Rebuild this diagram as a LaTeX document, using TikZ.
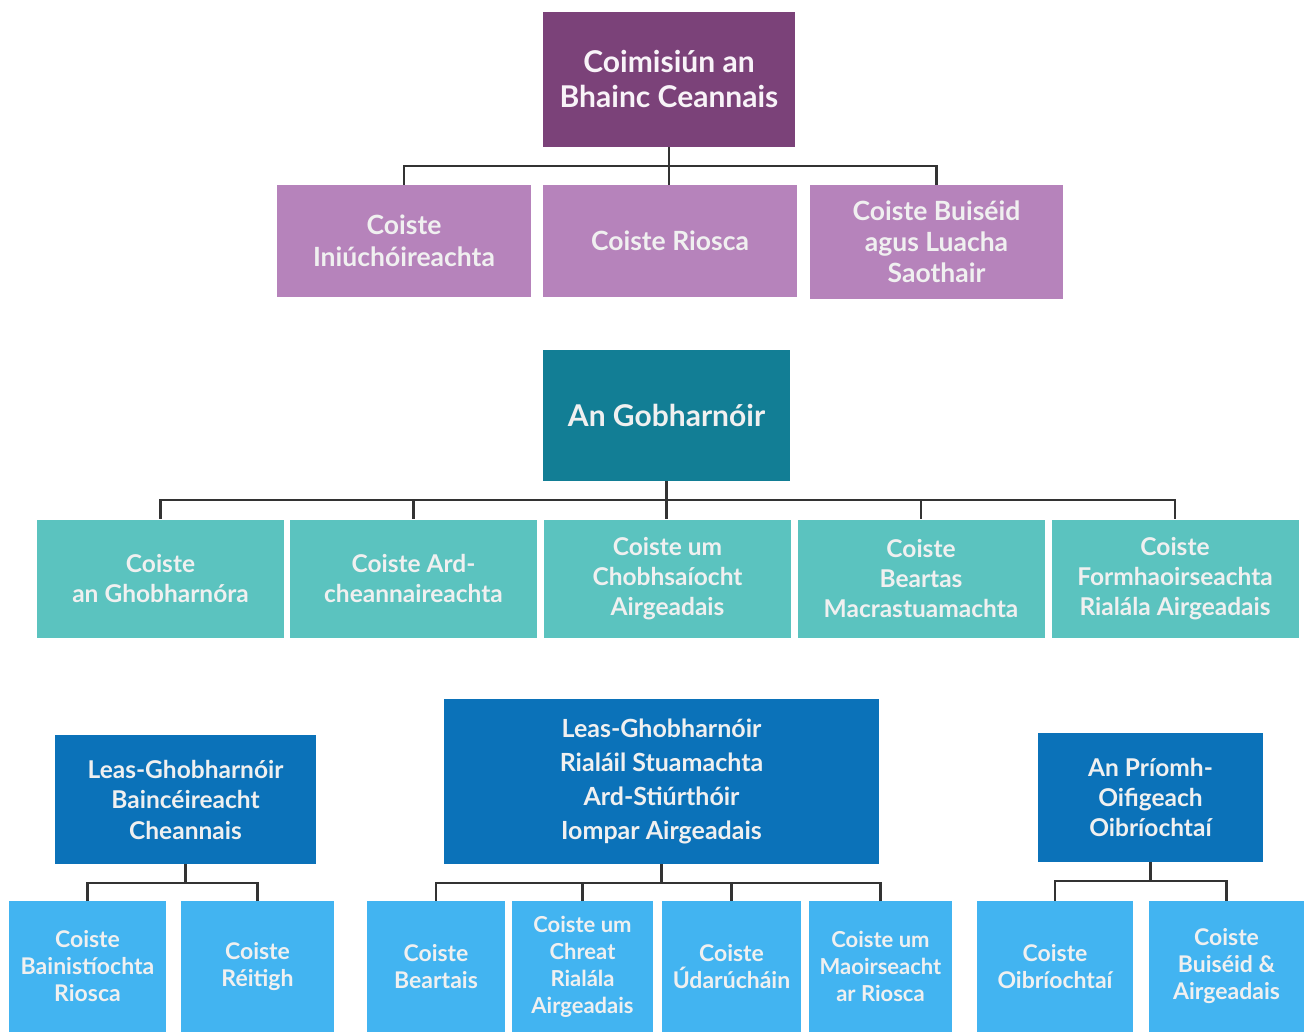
\documentclass[tikz,border=0pt]{standalone}
\usepackage{fontspec}
\setmainfont{Lato}
\usepackage{tikz}
\definecolor{commdark}{HTML}{7B4279}
\definecolor{commlight}{HTML}{B683BB}
\definecolor{govdark}{HTML}{127E95}
\definecolor{govlight}{HTML}{5BC3BF}
\definecolor{depdark}{HTML}{0B72B9}
\definecolor{deplight}{HTML}{42B4F1}
\def\drop{19}

\begin{document}
\begin{tikzpicture}[x=1pt, y=-1pt,
    box/.style={inner sep=0pt, align=center, font=\bfseries, text=white!94!black},
    link/.style={draw=black!80, line width=2.2pt}]
            \useasboundingbox (0, 0) rectangle (1304, 1032);

            % coimisiun
            \node[box, fill=commdark, minimum width=252, minimum height=135, font=\bfseries\fontsize{30}{35}\selectfont, text=white!90!commlight] (C) at (669, 79.5) {Coimisiún an\\Bhainc Ceannais};
            \node[box, fill=commlight, minimum width=254, minimum height=112, font=\bfseries\fontsize{26.5}{31.5}\selectfont] (c1) at (404, 241) {Coiste\\Iniúchóireachta};
            \node[box, fill=commlight, minimum width=254, minimum height=112, font=\bfseries\fontsize{26.5}{31.5}\selectfont] (c2) at (670, 241) {Coiste Riosca};
            \node[box, fill=commlight, minimum width=253, minimum height=114, font=\bfseries\fontsize{26.5}{31}\selectfont] (c3) at (936.5, 242) {Coiste Buiséid\\agus Luacha\\Saothair};

            \draw[link] (C.south) -- ++(0, \drop) -| (c1.north);
            \draw[link] (C.south) -- (C.south |- c2.north);
            \draw[link] (C.south) -- ++(0, \drop) -| (c3.north);

            % gobharnoir
            \node[box, fill=govdark, minimum width=247, minimum height=131, font=\bfseries\fontsize{30}{35}\selectfont] (G) at (666.5, 415.5) {An Gobharnóir};
            \node[box, fill=govlight, minimum width=247, minimum height=118, font=\bfseries\fontsize{24.5}{30}\selectfont] (g1) at (160.5, 578.5) {Coiste\\an Ghobharnóra};
            \node[box, fill=govlight, minimum width=247, minimum height=118, font=\bfseries\fontsize{24.5}{30}\selectfont] (g2) at (413.5, 578.5) {Coiste Ard-\\cheannaireachta};
            \node[box, fill=govlight, minimum width=247, minimum height=118, font=\bfseries\fontsize{24.5}{30}\selectfont] (g3) at (667.5, 578.5) {Coiste um\\Chobhsaíocht\\Airgeadais};
            \node[box, fill=govlight, minimum width=247, minimum height=118, font=\bfseries\fontsize{24.5}{30}\selectfont] (g4) at (921, 578.5) {Coiste\\Beartas\\Macrastuamachta};
            \node[box, fill=govlight, minimum width=247, minimum height=118, font=\bfseries\fontsize{24.5}{30}\selectfont] (g5) at (1175, 578.5) {Coiste\\Formhaoirseachta\\Rialála Airgeadais};

            \draw[link] (G.south) -- ++(0, \drop) -| (g1.north);
            \draw[link] (G.south) -- ++(0, \drop) -| (g2.north);
            \draw[link] (G.south) -- (G.south |- g3.north);
            \draw[link] (G.south) -- ++(0, \drop) -| (g4.north);
            \draw[link] (G.south) -- ++(0, \drop) -| (g5.north);

            % leas-ghobharnoiri
            \node[box, fill=depdark, minimum width=261, minimum height=129, font=\bfseries\fontsize{24.5}{30.5}\selectfont] (L) at (185.5, 799.5) {Leas-Ghobharnóir\\Baincéireacht\\Cheannais};
            \node[box, fill=depdark, minimum width=435, minimum height=165, font=\bfseries\fontsize{25}{34}\selectfont] (M) at (661.5, 781.5) {Leas-Ghobharnóir\\Rialáil Stuamachta\\Ard-Stiúrthóir\\Iompar Airgeadais};
            \node[box, fill=depdark, minimum width=225, minimum height=129, font=\bfseries\fontsize{24.5}{30}\selectfont] (P) at (1150.5, 797.5) {An Príomh-\\Oifigeach\\Oibríochtaí};

            \node[box, fill=deplight, minimum width=157, minimum height=131, font=\bfseries\fontsize{23}{27}\selectfont] (l1) at (87.5, 966.5) {Coiste\\Bainistíochta\\Riosca};
            \node[box, fill=deplight, minimum width=153, minimum height=131, font=\bfseries\fontsize{23}{27}\selectfont] (l2) at (257.5, 966.5) {Coiste\\Réitigh};

            \node[box, fill=deplight, minimum width=138, minimum height=131, font=\bfseries\fontsize{23}{27}\selectfont] (m1) at (436, 966.5) {Coiste\\Beartais};
            \node[box, fill=deplight, minimum width=141, minimum height=131, font=\bfseries\fontsize{22}{27}\selectfont] (m2) at (582.5, 966.5) {Coiste um\\Chreat\\Rialála\\Airgeadais};
            \node[box, fill=deplight, minimum width=139, minimum height=131, font=\bfseries\fontsize{23}{27}\selectfont] (m3) at (731.5, 966.5) {Coiste\\Údarúcháin};
            \node[box, fill=deplight, minimum width=143, minimum height=131, font=\bfseries\fontsize{22}{27}\selectfont] (m4) at (880.5, 966.5) {Coiste um\\Maoirseacht\\ar Riosca};

            \node[box, fill=deplight, minimum width=156, minimum height=131, font=\bfseries\fontsize{23}{27}\selectfont] (p1) at (1055, 966.5) {Coiste\\Oibríochtaí};
            \node[box, fill=deplight, minimum width=155, minimum height=131, font=\bfseries\fontsize{23}{27}\selectfont] (p2) at (1226.5, 966.5) {Coiste\\Buiséid \&\\Airgeadais};

            \draw[link] (L.south) -- ++(0, \drop) -| (l1.north);
            \draw[link] (L.south) -- ++(0, \drop) -| (l2.north);

            \draw[link] (M.south) -- ++(0, \drop) -| (m1.north);
            \draw[link] (M.south) -- ++(0, \drop) -| (m2.north);
            \draw[link] (M.south) -- ++(0, \drop) -| (m3.north);
            \draw[link] (M.south) -- ++(0, \drop) -| (m4.north);

            \draw[link] (P.south) -- ++(0, \drop) -| (p1.north);
            \draw[link] (P.south) -- ++(0, \drop) -| (p2.north);
        \end{tikzpicture}
\end{document}
